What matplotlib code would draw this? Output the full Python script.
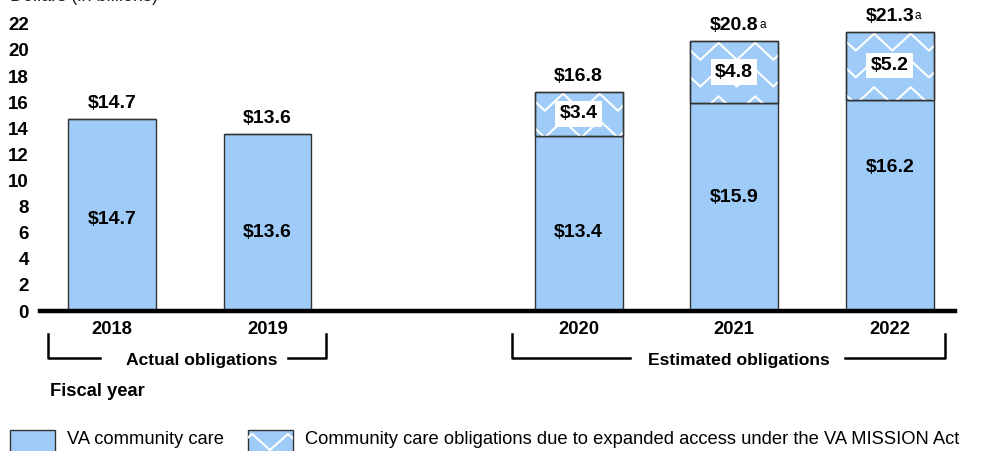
import matplotlib
matplotlib.use("Agg")
import matplotlib.pyplot as plt
from matplotlib.patches import Rectangle
from matplotlib.lines import Line2D
import numpy as np

# ---- data ----
years = ["2018", "2019", "2020", "2021", "2022"]
base_values = [14.7, 13.6, 13.4, 15.9, 16.2]
mission_values = [0.0, 0.0, 3.4, 4.8, 5.2]
total_labels = ["$14.7", "$13.6", "$16.8", "$20.8", "$21.3"]
total_notes = ["", "", "", "a", "a"]
y_ticks = [0, 2, 4, 6, 8, 10, 12, 14, 16, 18, 20, 22]

# ---- layout/style ----
W, H = 982, 451
positions = [0, 1, 3, 4, 5]
inner_label_y = [7.0, 6.05, 6.0, 8.7, 11.0]
BLUE = "#9ECBF7"
EDGE = "#333333"
BOLD = ["Liberation Sans", "DejaVu Sans"]
NARROW = ["Liberation Sans Narrow", "Liberation Sans", "DejaVu Sans"]

fig = plt.figure(figsize=(W / 100, H / 100), dpi=100)
ax_left, ax_right, ax_bottom = 40 / W, 955 / W, (H - 311) / H
ax = fig.add_axes([ax_left, ax_bottom, ax_right - ax_left, 1 - ax_bottom])
ax.set_xlim(-0.463, 5.42)
ax.set_ylim(0, 23.83)
for s in ["top", "right", "left"]:
    ax.spines[s].set_visible(False)
ax.spines["bottom"].set_linewidth(3.2)
ax.spines["bottom"].set_color("black")
ax.spines["bottom"].set_zorder(10)
ax.set_xticks([])
ax.set_yticks(y_ticks)
ax.set_yticklabels([str(t) for t in y_ticks], fontfamily=BOLD, fontweight="bold", fontsize=13.5)
ax.tick_params(axis="y", length=0, pad=8)

width = 0.565
bars_base = ax.bar(positions, base_values, width=width, color=BLUE, edgecolor=EDGE, linewidth=1.0, zorder=2)
bars_top = ax.bar(positions, mission_values, width=width, bottom=base_values, color=BLUE,
                  edgecolor=EDGE, linewidth=1.0, zorder=2)

# zigzag hatch (white chevrons) clipped to each hatched segment
xper, yrow, amp = 0.235, 2.05, 1.3
def zigzag_lines(ax, patch, xc, y0, y1):
    xs = xc + np.arange(-6, 7) * (xper / 2)
    k = np.arange(len(xs))
    peak = y1 - 0.15
    while peak > y0 - amp:
        ys = peak - np.where(k % 2 == 0, 0, amp)
        ln = Line2D(xs, ys, color="white", linewidth=1.5, zorder=3)
        ax.add_line(ln)
        ln.set_clip_path(patch)
        peak -= yrow

for p, b, m, bar in zip(positions, base_values, mission_values, bars_top):
    if m > 0:
        zigzag_lines(ax, bar, p - 0.1, b, b + m)
        ax.add_patch(Rectangle((p - width / 2, b), width, m, fill=False, edgecolor=EDGE, linewidth=1.0, zorder=4))

# labels
for i, (p, b, m) in enumerate(zip(positions, base_values, mission_values)):
    ax.text(p, inner_label_y[i], f"${b:.1f}", ha="center", va="center",
            fontfamily=BOLD, fontweight="bold", fontsize=14, zorder=5)
    if m > 0:
        ax.text(p, b + m / 2, f"${m:.1f}", ha="center", va="center",
                fontfamily=BOLD, fontweight="bold", fontsize=14, zorder=6,
                bbox=dict(boxstyle="square,pad=0.22", facecolor="white", edgecolor="none"))
    top = b + m
    t = ax.annotate(total_labels[i], xy=(p, top), xytext=(0, 5), textcoords="offset points",
                    ha="center", va="bottom", fontfamily=BOLD, fontweight="bold", fontsize=14)
    if total_notes[i]:
        ax.annotate(total_notes[i], xy=(1, 1), xycoords=t, xytext=(0.5, -1.5), textcoords="offset points",
                    ha="left", va="top", fontfamily=BOLD, fontsize=8.5)

# year labels
for p, y in zip(positions, years):
    ax.annotate(y, xy=(p, 0), xytext=(0, -7), textcoords="offset points", ha="center", va="top",
                fontfamily=BOLD, fontweight="bold", fontsize=13.2, annotation_clip=False)

def fx(x):
    return x / W
def fy(y):
    return 1 - y / H

# brackets
def bracket(xl, xr, tl, tr, label, tc):
    kw = dict(color="black", linewidth=1.8, transform=fig.transFigure)
    fig.add_artist(Line2D([fx(xl), fx(xl), fx(tl)], [fy(334), fy(358), fy(358)], **kw))
    fig.add_artist(Line2D([fx(tr), fx(xr), fx(xr)], [fy(358), fy(358), fy(334)], **kw))
    fig.text(fx(tc), fy(360), label, ha="center", va="center", fontfamily=NARROW,
             fontweight="bold", fontsize=12.6)

bracket(48, 326, 100, 288, "Actual obligations", 202)
bracket(512, 945, 630, 845, "Estimated obligations", 739)

fig.text(fx(50), fy(392), "Fiscal year", ha="left", va="center", fontfamily=NARROW,
         fontweight="bold", fontsize=13.2)

fig.text(fx(10), fy(-4), "Dollars (in billions)", ha="left", va="center", fontfamily=NARROW,
         fontsize=13, color="#222222")

# legend
def legend_patch(x0, hatched):
    r = Rectangle((fx(x0), fy(453)), fx(45), 23 / H, transform=fig.transFigure,
                  facecolor=BLUE, edgecolor=EDGE, linewidth=1.0)
    fig.add_artist(r)
    if hatched:
        xs = np.arange(x0 - 14, x0 + 70, 18)
        k = np.arange(len(xs))
        for pk in [434, 404]:
            ys = pk + np.where(k % 2 == 0, 16, 0)
            ln = Line2D([fx(v) for v in xs], [fy(v) for v in ys], color="white", linewidth=1.5,
                        transform=fig.transFigure)
            fig.add_artist(ln)
            ln.set_clip_path(r)

legend_patch(10, False)
fig.text(fx(67), fy(440), "VA community care", ha="left", va="center", fontfamily=NARROW, fontsize=13.2)
legend_patch(248, True)
fig.text(fx(305), fy(440), "Community care obligations due to expanded access under the VA MISSION Act",
         ha="left", va="center", fontfamily=NARROW, fontsize=13.2)

fig.savefig("out.png", dpi=100)
